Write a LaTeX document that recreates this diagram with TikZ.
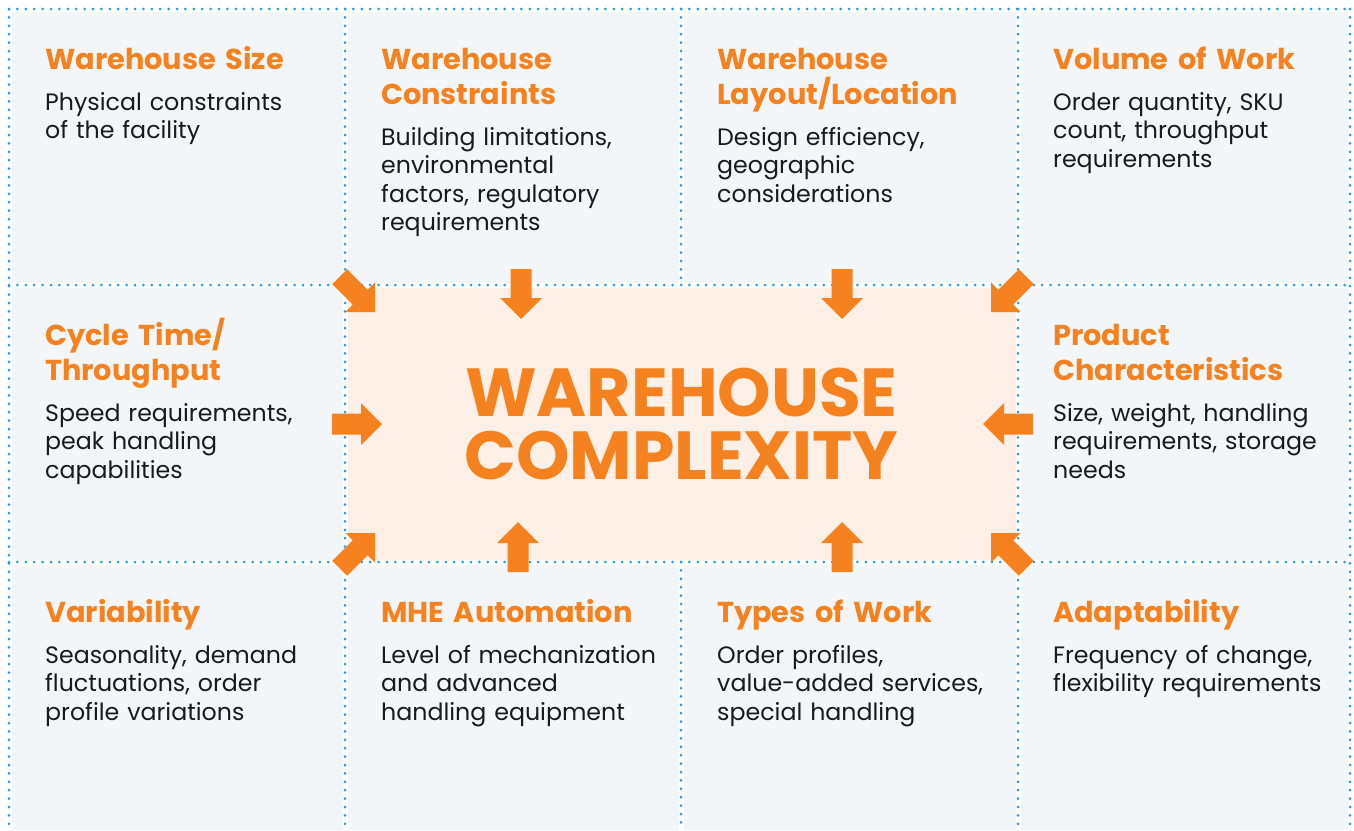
\documentclass[tikz,border=0pt]{standalone}
\usepackage{fontspec}
\setmainfont{Poppins}
\usetikzlibrary{positioning}
\definecolor{wor}{HTML}{F5821F}
\definecolor{wpeach}{HTML}{FEF0E6}
\definecolor{wcell}{HTML}{F3F6F9}
\definecolor{wdot}{HTML}{2B9AE0}
\definecolor{wtext}{HTML}{1A1A1A}

\tikzset{
  fhead/.style={anchor=north west, inner sep=0pt, text width=300pt, align=left,
    text=wor, font={\fontsize{28.8}{35}\selectfont\bfseries\lineskiplimit=-100pt\relax},
    execute at begin node={\rule{0pt}{28pt}}, execute at end node=\strut},
  fdesc/.style={below right=10.5pt and 0pt of #1.south west, inner sep=0pt,
    text width=300pt, align=left, text=wtext,
    font=\fontsize{23.7}{28.4}\selectfont, execute at begin node=\strut},
  dotline/.style={wdot, line width=3pt, line cap=round, dash pattern=on 0pt off 8.4pt},
  gapline/.style={white, line width=5pt},
  inarrow/.pic={\fill[wor] (-50,10.5) -- (-21,10.5) -- (-21,21) -- (0,0)
    -- (-21,-21) -- (-21,-10.5) -- (-50,-10.5) -- cycle;}
}

\begin{document}
\begin{tikzpicture}[x=1pt,y=-1pt]
  \useasboundingbox (0,0) rectangle (1354,830);
  \fill[wcell] (9,9) rectangle (1350,830); %背景
  \node[fill=wpeach, minimum width=673pt, minimum height=277pt, inner sep=0pt,
    text=wor, align=center, font=\fontsize{68}{63}\selectfont\bfseries]
    (core) at (681.5,424.5) {WAREHOUSE\\COMPLEXITY}; %中央

  % 区切り線
  \draw[gapline] (9,9)--(1350,9);
  \draw[gapline] (9,285)--(1350,285);
  \draw[gapline] (9,562)--(1350,562);
  \draw[gapline] (9,9)--(9,830);
  \draw[gapline] (345,9)--(345,830);
  \draw[gapline] (681,9)--(681,285);
  \draw[gapline] (681,562)--(681,830);
  \draw[gapline] (1018,9)--(1018,830);
  \draw[gapline] (1350,9)--(1350,830);
  \draw[dotline] (9,9)--(1350,9);
  \draw[dotline] (9,285)--(1350,285);
  \draw[dotline] (9,562)--(1350,562);
  \draw[dotline] (9,9)--(9,830);
  \draw[dotline] (345,9)--(345,830);
  \draw[dotline] (681,9)--(681,285);
  \draw[dotline] (681,562)--(681,830);
  \draw[dotline] (1018,9)--(1018,830);
  \draw[dotline] (1350,9)--(1350,830);

  % 矢印
  \pic[rotate=-45] at (375,312) {inarrow};
  \pic[rotate=-90] at (521,319) {inarrow};
  \pic[rotate=-90] at (842,319) {inarrow};
  \pic[rotate=-135] at (991,312) {inarrow};
  \pic at (382,424) {inarrow};
  \pic[rotate=180] at (983,424) {inarrow};
  \pic[rotate=45] at (375,533) {inarrow};
  \pic[rotate=90] at (518,522) {inarrow};
  \pic[rotate=90] at (842,522) {inarrow};
  \pic[rotate=135] at (991,533) {inarrow};

  % 上段
  \node[fhead] (size) at (45,41) {Warehouse Size};
  \node[fdesc=size] (sizetx) {Physical constraints\\of the facility};
  \node[fhead] (constr) at (381,41) {Warehouse\\Constraints};
  \node[fdesc=constr] (constrtx) {Building limitations,\\environmental\\factors, regulatory\\requirements};
  \node[fhead] (layout) at (717,41) {Warehouse\\Layout/Location};
  \node[fdesc=layout] (layouttx) {Design efficiency,\\geographic\\considerations};
  \node[fhead] (volume) at (1053,41) {Volume of Work};
  \node[fdesc=volume] (volumetx) {Order quantity, SKU\\count, throughput\\requirements};

  % 中段
  \node[fhead] (cycle) at (45,317) {Cycle Time/\\Throughput};
  \node[fdesc=cycle] (cycletx) {Speed requirements,\\peak handling\\capabilities};
  \node[fhead] (product) at (1053,317) {Product\\Characteristics};
  \node[fdesc=product] (producttx) {Size, weight, handling\\requirements, storage\\needs};

  % 下段
  \node[fhead] (vary) at (45,594) {Variability};
  \node[fdesc=vary] (varytx) {Seasonality, demand\\fluctuations, order\\profile variations};
  \node[fhead] (mhe) at (381,594) {MHE Automation};
  \node[fdesc=mhe] (mhetx) {Level of mechanization\\and advanced\\handling equipment};
  \node[fhead] (types) at (717,594) {Types of Work};
  \node[fdesc=types] (typestx) {Order profiles,\\value-added services,\\special handling};
  \node[fhead] (adapt) at (1053,594) {Adaptability};
  \node[fdesc=adapt] (adapttx) {Frequency of change,\\flexibility requirements};
\end{tikzpicture}
\end{document}
